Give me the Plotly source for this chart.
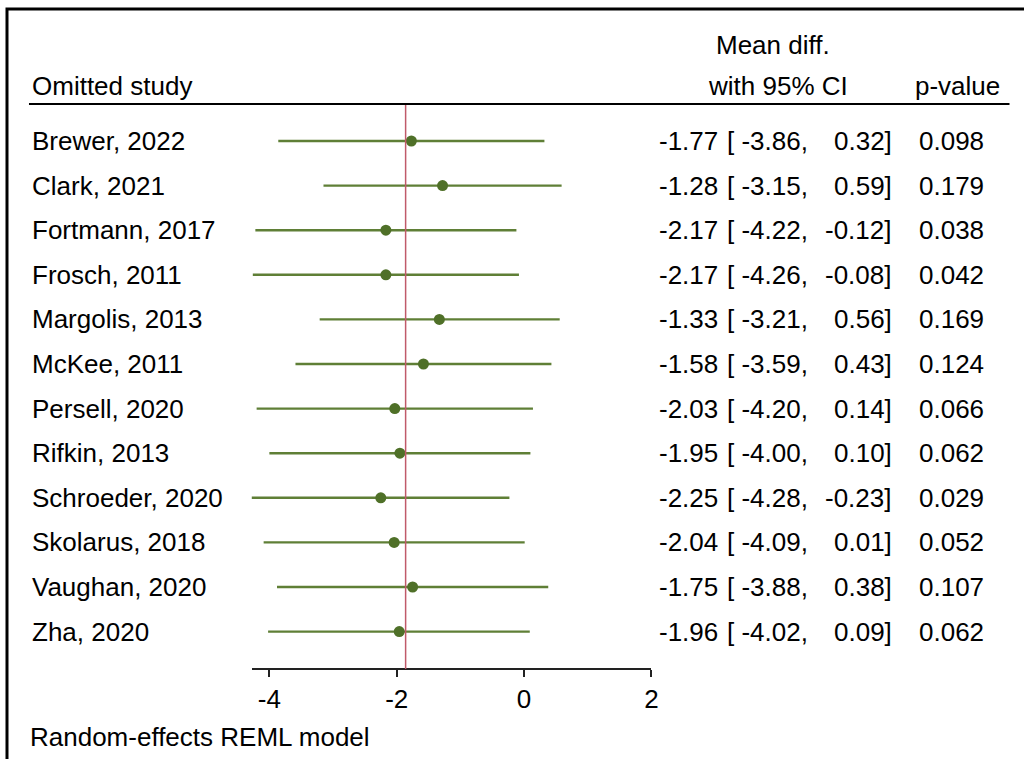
import plotly.graph_objects as go

studies = ["Brewer, 2022", "Clark, 2021", "Fortmann, 2017", "Frosch, 2011",
           "Margolis, 2013", "McKee, 2011", "Persell, 2020", "Rifkin, 2013",
           "Schroeder, 2020", "Skolarus, 2018", "Vaughan, 2020", "Zha, 2020"]
est = [-1.77, -1.28, -2.17, -2.17, -1.33, -1.58, -2.03, -1.95, -2.25, -2.04, -1.75, -1.96]
lower = [-3.86, -3.15, -4.22, -4.26, -3.21, -3.59, -4.20, -4.00, -4.28, -4.09, -3.88, -4.02]
upper = [0.32, 0.59, -0.12, -0.08, 0.56, 0.43, 0.14, 0.10, -0.23, 0.01, 0.38, 0.09]
pvals = ["0.098", "0.179", "0.038", "0.042", "0.169", "0.124", "0.066", "0.062",
         "0.029", "0.052", "0.107", "0.062"]
overall = -1.86
tick_vals = [-4, -2, 0, 2]
tick_text = ["-4", "-2", "0", "2"]

W, H = 1024, 759
SX = 1024 / 1017.5  # horizontal correction observed in rendering
FONT = "Liberation Sans, Arial, Helvetica, sans-serif"
FS = 26
LINE_C = "#5f7f36"
MARK_C = "#4f7028"
RED_C = "#c05a6a"

def px(x):
    return x * SX / W

def py(y):
    return 1 - y / H

idx = list(range(len(studies)))
row0, step = 141.0, 44.6

fig = go.Figure()
fig.add_trace(go.Scatter(
    x=est, y=idx, mode="markers",
    marker=dict(size=11, color=MARK_C),
    error_x=dict(type="data", symmetric=False,
                 array=[u - e for u, e in zip(upper, est)],
                 arrayminus=[e - l for e, l in zip(est, lower)],
                 color=LINE_C, thickness=2.4, width=0),
    showlegend=False, hoverinfo="skip"))

xmin = min(lower)
xmax = 2
zero_px, unit_px = 524.3, 63.7
dom_l = px(zero_px + xmin * unit_px)
dom_r = px(zero_px + xmax * unit_px)

annotations = []
def txt(text, x, y, xanchor="left", yref="paper"):
    annotations.append(dict(text=text, x=x, y=y, xref="paper", yref=yref,
                            xanchor=xanchor, yanchor="middle", showarrow=False,
                            borderpad=0, borderwidth=0,
                            font=dict(family=FONT, size=FS, color="black")))

for i, s in enumerate(studies):
    txt(s, px(32), i, "left", "y")
    txt(f"{est[i]:.2f}", px(718), i, "right", "y")
    txt(f"[ {lower[i]:.2f},", px(727), i, "left", "y")
    txt(f"{upper[i]:.2f}]", px(892), i, "right", "y")
    txt(pvals[i], px(984), i, "right", "y")

txt("Omitted study", px(32), py(86), "left")
annotations.append(dict(text="Mean diff.", x=px(773), y=py(45), xref="paper", yref="paper",
                        xanchor="center", yanchor="middle", showarrow=False,
                        borderpad=0, borderwidth=0,
                        font=dict(family=FONT, size=FS, color="black")))
txt("with 95% CI", px(848), py(86), "right")
txt("p-value", px(1000), py(86), "right")
txt("Random-effects REML model", px(30), py(737), "left")

shapes = [
    dict(type="line", xref="paper", yref="paper", x0=px(29), x1=px(1010),
         y0=py(104), y1=py(104), line=dict(color="black", width=2)),
    dict(type="line", xref="x", yref="paper", x0=overall, x1=overall,
         y0=py(669), y1=py(105), line=dict(color=RED_C, width=1.5)),
    dict(type="rect", xref="paper", yref="paper", x0=px(7), x1=1.05,
         y0=-0.05, y1=py(9), line=dict(color="black", width=3)),
]

fig.update_layout(
    width=W, height=H, margin=dict(l=0, r=0, t=0, b=0),
    paper_bgcolor="white", plot_bgcolor="white",
    xaxis=dict(domain=[dom_l, dom_r], range=[xmin, xmax], anchor="free",
               position=py(669), showline=True, linecolor="#222", linewidth=1.5,
               ticks="outside", ticklen=7, tickwidth=1.5, tickcolor="#222",
               tickvals=tick_vals, ticktext=tick_text, showgrid=False, zeroline=False,
               tickfont=dict(family=FONT, size=FS, color="black")),
    yaxis=dict(domain=[0, 1], range=[(H - row0) / step, -row0 / step], visible=False,
               showgrid=False, zeroline=False),
    annotations=annotations, shapes=shapes,
)

fig.write_html("out.html")
